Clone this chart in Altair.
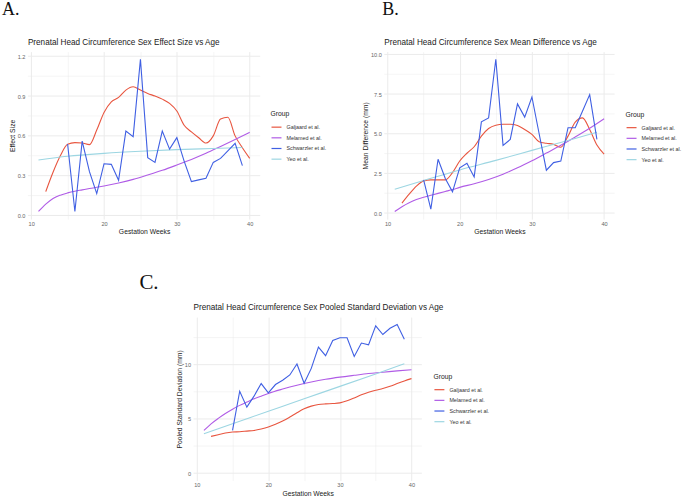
import altair as alt
import pandas as pd

# ---- data -------------------------------------------------------------
groups = ["Galjaard et al.", "Melamed et al.", "Schwarzler et al.", "Yeo et al."]
colors = ["#E8553F", "#B05CE6", "#3F5FE3", "#9DD6E2"]

weeks_galjaard = list(range(12, 41))
weeks_melamed = [11, 12, 13, 14, 15, 16, 17, 18, 19, 20, 22, 24, 26, 28, 30, 32, 34, 36, 38, 40]
weeks_schwarzler = list(range(15, 40))
weeks_yeo = [11, 15, 20, 25, 30, 35, 39]

# effect size
es_galjaard = [0.18, 0.326, 0.45, 0.536, 0.549, 0.546, 0.534, 0.644, 0.777, 0.857,
               0.89, 0.945, 0.97, 0.945, 0.92, 0.90, 0.877, 0.845, 0.787, 0.68,
               0.63, 0.586, 0.546, 0.60, 0.727, 0.74, 0.60, 0.51, 0.43]
es_melamed = [0.03, 0.085, 0.128, 0.153, 0.17, 0.183, 0.193, 0.203, 0.212, 0.222,
              0.245, 0.272, 0.305, 0.34, 0.38, 0.422, 0.468, 0.52, 0.573, 0.627]
es_schwarzler = [0.539, 0.03, 0.56, 0.33, 0.165, 0.39, 0.385, 0.265, 0.636, 0.594,
                 1.178, 0.436, 0.40, 0.636, 0.50, 0.587, 0.41, 0.255, 0.268, 0.28,
                 0.40, 0.43, 0.486, 0.544, 0.376]
es_yeo = [0.418, 0.446, 0.468, 0.484, 0.496, 0.505, 0.512]

# mean difference (mm)
md_galjaard = [0.63, 1.19, 1.7, 2.03, 2.09, 2.09, 2.09, 2.55, 3.28, 3.77,
               4.18, 4.85, 5.33, 5.54, 5.6, 5.6, 5.52, 5.27, 4.96, 4.5,
               4.4, 4.33, 4.15, 4.85, 5.73, 6.0, 5.27, 4.29, 3.72]
md_melamed = [0.1, 0.4, 0.65, 0.85, 1.0, 1.12, 1.24, 1.36, 1.48, 1.62,
              1.85, 2.12, 2.45, 2.85, 3.3, 3.78, 4.27, 4.8, 5.35, 5.95]
md_schwarzler = [2.09, 0.25, 3.39, 2.18, 1.34, 2.85, 3.14, 2.28, 5.75, 6.0,
                 9.7, 4.27, 4.64, 6.88, 6.05, 7.32, 5.0, 2.7, 3.18, 3.28,
                 5.38, 5.38, 6.42, 7.47, 4.64]
md_yeo = [1.5, 2.05, 2.72, 3.32, 3.95, 4.58, 5.1]

# pooled standard deviation (mm)
sd_galjaard = [3.39, 3.55, 3.7, 3.79, 3.82, 3.88, 3.94, 4.07, 4.25, 4.5,
               4.8, 5.17, 5.57, 5.93, 6.18, 6.33, 6.39, 6.42, 6.48, 6.67,
               6.94, 7.22, 7.46, 7.65, 7.8, 8.01, 8.26, 8.5, 8.72]
sd_melamed = [3.94, 4.55, 5.05, 5.5, 5.9, 6.25, 6.55, 6.85, 7.1, 7.35,
              7.75, 8.1, 8.4, 8.65, 8.85, 9.02, 9.18, 9.3, 9.43, 9.54]
sd_schwarzler = [3.94, 7.55, 6.09, 7.1, 8.26, 7.4, 8.17, 8.56, 9.05, 10.06,
                 8.29, 9.66, 11.62, 10.83, 12.23, 12.48, 12.48, 10.76, 11.99, 11.83,
                 13.58, 12.78, 13.36, 13.7, 12.35]
sd_yeo = [3.64, 4.56, 5.71, 6.86, 8.0, 9.15, 10.08]

FONT = "Liberation Sans"
GRID = "#EBEBEB"


def long_frame(gal, mel, sch, yeo):
    rows = []
    for name, wk, vals in [(groups[0], weeks_galjaard, gal), (groups[1], weeks_melamed, mel),
                           (groups[2], weeks_schwarzler, sch), (groups[3], weeks_yeo, yeo)]:
        for w, v in zip(wk, vals):
            rows.append({"week": w, "value": v, "group": name})
    return pd.DataFrame(rows)


def note(text, xy, font, size, color):
    # free-standing text placed in pixel offsets from the group's origin
    return alt.Chart(pd.DataFrame({"t": [text]})).mark_text(
        font=font, fontSize=size, align="left", baseline="alphabetic", color=color
    ).encode(x=alt.value(xy[0]), y=alt.value(xy[1]), text="t:N")


def panel(df, title, title_y, ytitle, ydomain, yvalues, ystep, yfmt, width, height,
          legend_xy, letter, letter_xy, letter_size, shift=0.0):
    """One panel; the plot area starts `shift` pixels from the group's origin."""
    left, right = shift, shift + width
    x_major = "round(datum.value / 5) % 2 === 0"
    x = alt.X(
        "week:Q",
        scale=alt.Scale(domain=[9.55, 41.45], nice=False, zero=False, range=[left, right]),
        axis=alt.Axis(
            title="Gestation Weeks", values=[10, 15, 20, 25, 30, 35, 40], format="d",
            labelExpr=f"{x_major} ? datum.label : ''",
            grid=True, gridColor=GRID,
            gridWidth={"condition": {"test": x_major, "value": 1.0}, "value": 0.5},
            domain=False, ticks=False,
            labelFont=FONT, labelFontSize=5.6, labelColor="#666", labelPadding=2,
            titleFont=FONT, titleFontSize=6.8, titleFontWeight="normal", titleColor="#222",
            titlePadding=2, titleX=left + width / 2,
        ),
    )
    y_major = f"round(datum.value / {ystep}) % 2 === 0"
    y_scale = alt.Scale(domain=ydomain, nice=False, zero=False)
    y = alt.Y(
        "value:Q", scale=y_scale,
        axis=alt.Axis(
            title=ytitle, values=yvalues, format=yfmt,
            labelExpr=f"{y_major} ? datum.label : ''",
            grid=False, domain=False, ticks=False, offset=-shift,
            labelFont=FONT, labelFontSize=5.6, labelColor="#666", labelPadding=3,
            titleFont=FONT, titleFontSize=6.8, titleFontWeight="normal", titleColor="#222",
            titlePadding=2,
        ),
    )
    color = alt.Color(
        "group:N", scale=alt.Scale(domain=groups, range=colors),
        legend=alt.Legend(
            title="Group", orient="none", legendX=legend_xy[0] + shift, legendY=legend_xy[1],
            symbolType="stroke", symbolStrokeWidth=1.2, symbolSize=100,
            labelFont=FONT, labelFontSize=5.4, labelColor="#333", labelOffset=4,
            titleFont=FONT, titleFontSize=6.8, titleFontWeight="normal", titleColor="#222",
            titleAnchor="start", titleAlign="left",
            titlePadding=3, rowPadding=0.7,
        ),
    )
    # horizontal grid lines across the plot area
    gl = pd.DataFrame({"g": yvalues})
    gl["major"] = [i % 2 == 0 for i in range(len(yvalues))]
    grid_major = alt.Chart(gl[gl["major"]]).mark_rule(color=GRID, strokeWidth=1.0).encode(
        y=alt.Y("g:Q", scale=y_scale), x=alt.value(left), x2=alt.value(right))
    grid_minor = alt.Chart(gl[~gl["major"]]).mark_rule(color=GRID, strokeWidth=0.5).encode(
        y=alt.Y("g:Q", scale=y_scale), x=alt.value(left), x2=alt.value(right))

    smooth = alt.Chart(df[df["group"] != groups[2]]).mark_line(
        strokeWidth=1.1, interpolate="monotone").encode(x=x, y=y, color=color, detail="group:N")
    jagged = alt.Chart(df[df["group"] == groups[2]]).mark_line(
        strokeWidth=1.1).encode(x=x, y=y, color=color)
    heading = note(title, (left, title_y), FONT, 8.2, "#222")
    tag = note(letter, (letter_xy[0] + shift, letter_xy[1]), "Liberation Serif", letter_size, "#111")
    return alt.layer(grid_major, grid_minor, smooth, jagged, heading, tag).properties(
        width=max(right, 1), height=height)


chart_a = panel(long_frame(es_galjaard, es_melamed, es_schwarzler, es_yeo),
                "Prenatal Head Circumference Sex Effect Size vs Age", -6.5, "Effect Size",
                [-0.0274, 1.2354], [0, 0.15, 0.3, 0.45, 0.6, 0.75, 0.9, 1.05, 1.2], 0.15, ".1f",
                233, 168, (243.3, 60), "A.", (-26, -37), 18)
chart_b = panel(long_frame(md_galjaard, md_melamed, md_schwarzler, md_yeo),
                "Prenatal Head Circumference Sex Mean Difference vs Age", -6.5,
                "Mean Difference (mm)",
                [-0.38, 10.18], [0, 1.25, 2.5, 3.75, 5.0, 6.25, 7.5, 8.75, 10.0], 1.25, ".1f",
                231, 168, (242, 60.5), "B.", (-2, -36.5), 18)
# panel C sits in the right-hand column and reaches back to the left
chart_c = panel(long_frame(sd_galjaard, sd_melamed, sd_schwarzler, sd_yeo),
                "Prenatal Head Circumference Sex Pooled Standard Deviation vs Age", -7,
                "Pooled Standard Deviation (mm)",
                [-0.685, 14.385], [0, 2.5, 5, 7.5, 10, 12.5], 2.5, "d",
                229, 164, (240.6, 57), "C.", (-54.3, -28.5), 21, shift=-191.3)

spacer = alt.Chart(pd.DataFrame({"v": [0]})).mark_point(opacity=0).encode(
    x=alt.value(0), y=alt.value(0)).properties(width=10, height=1)

chart = alt.concat(
    chart_a, chart_b, spacer, chart_c, columns=2,
    spacing={"row": 98.3, "column": 124.4}, bounds="flush",
).resolve_scale(x="independent", y="independent", color="independent").resolve_legend(
    color="independent"
).properties(
    padding={"left": 2, "top": 0, "right": 0, "bottom": 0},
    background="white",
).configure_view(stroke=None)

chart.save("out.html", embed_options={"renderer": "svg", "actions": False})
